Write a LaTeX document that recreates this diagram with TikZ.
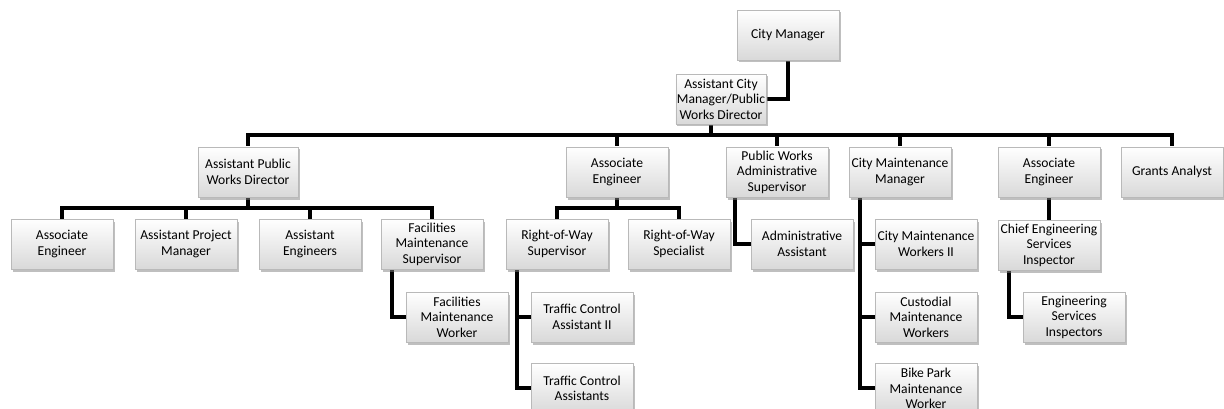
\documentclass[tikz,border=0pt]{standalone}
\usepackage{fontspec}
\setmainfont{Carlito}
\usetikzlibrary{positioning, shadows, backgrounds}
\newcommand\chartfont{\fontsize{13.6}{15.5}\selectfont}
\tikzset{
    role/.style={draw=gray!55, top color=white, bottom color=gray!30,
        drop shadow={shadow xshift=1.5pt, shadow yshift=-2.5pt, opacity=.5, fill=gray},
        minimum width=102pt, minimum height=50pt, inner sep=1pt,
        align=center, font=\chartfont},
    link/.style={line width=4pt, line cap=rect, draw=black},
    node distance=21pt
}

\begin{document}
\begin{tikzpicture}[x=1pt, y=-1pt]
    \useasboundingbox (0,0) rectangle (1224,409);

    % top of the chart
    \node[role] (cm) at (788,35) {City Manager};
    \node[role, minimum width=82pt] (acm) at (721,99) {Assistant City\\Manager/Public\\Works Director};

    % directors and managers
    \node[role, minimum width=100pt] (apwd) at (248,172) {Assistant Public\\Works Director};
    \node[role] (ae1) at (617,172) {Associate\\Engineer};
    \node[role] (pwas) at (777,172) {Public Works\\Administrative\\Supervisor};
    \node[role] (cmm) at (900,172) {City Maintenance\\Manager};
    \node[role] (ae2) at (1049,172) {Associate\\Engineer};
    \node[role] (ga) at (1172,172) {Grants Analyst};

    % third row
    \node[role] (ae3) at (62,244) {Associate\\Engineer};
    \node[role] (apm) at (186,244) {Assistant Project\\Manager};
    \node[role] (aes) at (310,244) {Assistant\\Engineers};
    \node[role] (fms) at (432,244) {Facilities\\Maintenance\\Supervisor};
    \node[role] (rws) at (557,244) {Right-of-Way\\Supervisor};
    \node[role] (rwsp) at (679,244) {Right-of-Way\\Specialist};
    \node[role] (aa) at (802,244) {Administrative\\Assistant};
    \node[role] (cmw) at (926,244) {City Maintenance\\Workers II};
    \node[role] (cesi) at (1049,245) {Chief Engineering\\Services\\Inspector};

    % lower rows
    \node[role] (fmw) at (457,317) {Facilities\\Maintenance\\Worker};
    \node[role] (tca2) at (582,317) {Traffic Control\\Assistant II};
    \node[role, below=of tca2] (tca) {Traffic Control\\Assistants};
    \node[role] (cmwc) at (926,317) {Custodial\\Maintenance\\Workers};
    \node[role, below=of cmwc] (bpmw) {Bike Park\\Maintenance\\Worker};
    \node[role] (esi) at (1074,317) {Engineering\\Services\\Inspectors};

    \begin{scope}[on background layer]
        \draw[link] (cm.south) |- (acm.east);

        % main bus under the director
        \path (acm.south) ++(-10,11) coordinate (busA);
        \draw[link] ([xshift=-10pt]acm.south) -- (busA);
        \draw[link] (apwd.north |- busA) -- (ga.north |- busA);
        \foreach \n in {apwd, ae1, pwas, cmm, ae2, ga}
            \draw[link] (\n.north) -- (\n.north |- busA);

        % assistant director's staff
        \path (apwd.south) ++(0,11) coordinate (busB);
        \draw[link] (apwd.south) -- (busB);
        \draw[link] (ae3.north |- busB) -- (fms.north |- busB);
        \foreach \n in {ae3, apm, aes, fms}
            \draw[link] (\n.north) -- (\n.north |- busB);

        % right-of-way group
        \path (ae1.south) ++(0,11) coordinate (busC);
        \draw[link] (ae1.south) -- (busC);
        \draw[link] (rws.north |- busC) -- (rwsp.north |- busC);
        \foreach \n in {rws, rwsp}
            \draw[link] (\n.north) -- (\n.north |- busC);

        % side branches
        \draw[link] ([xshift=9pt]pwas.south west) |- (aa.west);
        \draw[link] ([xshift=11pt]fms.south west) |- (fmw.west);
        \foreach \n in {tca2, tca}
            \draw[link] ([xshift=11pt]rws.south west) |- (\n.west);
        \foreach \n in {cmw, cmwc, bpmw}
            \draw[link] ([xshift=11pt]cmm.south west) |- (\n.west);
        \draw[link] (ae2.south) -- (cesi.north);
        \draw[link] ([xshift=11pt]cesi.south west) |- (esi.west);
    \end{scope}
\end{tikzpicture}
\end{document}
